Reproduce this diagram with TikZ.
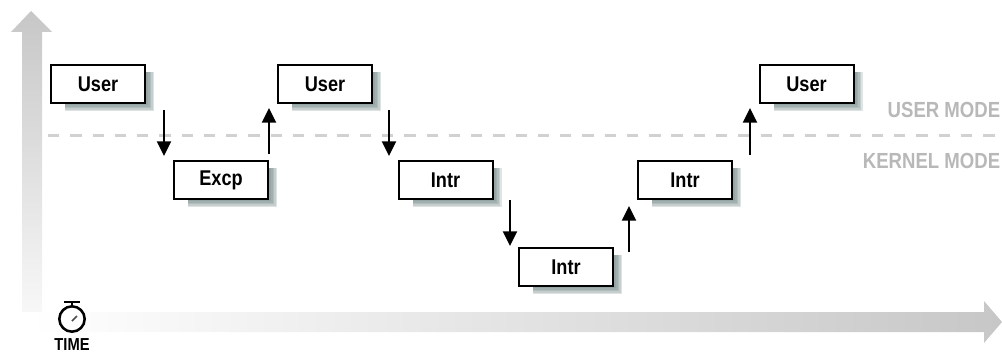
\documentclass[tikz,border=0pt]{standalone}
\usepackage{fontspec}
\setmainfont[FakeStretch=0.85]{Liberation Sans}
\usetikzlibrary{arrows.meta}
\definecolor{axisgray}{gray}{0.78}
\definecolor{modegray}{gray}{0.72}
\definecolor{dashgray}{gray}{0.82}
\definecolor{shadowgray}{rgb}{0.42,0.5,0.5}
\tikzset{
	modebox/.style={draw=black,fill=white,line width=1.5pt,minimum width=70.5pt,minimum height=28.5pt,inner sep=0pt,font=\bfseries\fontsize{16}{18}\selectfont},
	flowarrow/.style={draw=black,line width=1.5pt,-{Triangle[length=11pt,width=10.5pt]}},
	modelabel/.style={anchor=east,inner sep=0pt,text=modegray,font=\bfseries\fontsize{16.4}{19}\selectfont}
}
\newcommand{\modebox}[3]{
	\foreach \g in {0,1.5,3,4.5,6}
		\fill[shadowgray,opacity=0.22,shift={(#1)}] (-33,-12) rectangle (50+\g,21+\g);
	\node[modebox] at (#1) (#2) {#3}
}
\begin{document}
\begin{tikzpicture}[x=0.75pt,y=-0.75pt]
	\useasboundingbox (0,0) rectangle (1002,353);
	% axes
	\shade[top color=axisgray,bottom color=black!3] (31,11) -- (52,32) -- (42,32) -- (42,312) -- (22,312) -- (22,32) -- (11,32) -- cycle;
	\shade[left color=white,right color=axisgray] (30,312) -- (984,312) -- (984,301) -- (1002,322) -- (984,343) -- (984,332) -- (30,332) -- cycle;
	\draw[dashgray,line width=2.25pt,dash pattern=on 8.5pt off 8.2pt] (48,135.5) -- (1002,135.5);
	\node[modelabel] (usermode) at (1000.5,110) {USER MODE};
	\node[modelabel] (kernelmode) at (1000.5,161) {KERNEL MODE};

	\modebox{98,84}{user-1}{User};
	\modebox{221,180}{excp}{Excp};
	\modebox{325,84}{user-2}{User};
	\modebox{445.5,180}{intr-1}{Intr};
	\modebox{566,267}{intr-2}{Intr};
	\modebox{685,180}{intr-3}{Intr};
	\modebox{806.5,84}{user-3}{User};

	\coordinate (a1) at (164,110);
	\coordinate (b1) at (164,156);
	\coordinate (a2) at (269,154);
	\coordinate (b2) at (269,108);
	\coordinate (a3) at (389,110);
	\coordinate (b3) at (389,156);
	\coordinate (a4) at (510,200);
	\coordinate (b4) at (510,246);
	\coordinate (a5) at (629,252);
	\coordinate (b5) at (629,206);
	\coordinate (a6) at (750,155);
	\coordinate (b6) at (750,108);
	\draw[flowarrow] (a1) -- (b1);
	\draw[flowarrow] (a2) -- (b2);
	\draw[flowarrow] (a3) -- (b3);
	\draw[flowarrow] (a4) -- (b4);
	\draw[flowarrow] (a5) -- (b5);
	\draw[flowarrow] (a6) -- (b6);

	% stopwatch
	\node[circle,draw=black,fill=white,line width=1.9pt,minimum size=19pt,inner sep=0pt] (watch) at (72,319) {};
	\coordinate (stem) at (72,302);
	\coordinate (barl) at (64,302);
	\coordinate (barr) at (80,302);
	\coordinate (hand) at (77,316);
	\coordinate (hub) at (72,321);
	\draw[line width=1.5pt] (stem) -- (watch.north);
	\draw[line width=1.5pt] (barl) -- (barr);
	\draw[black!70,line width=1.2pt] (hub) -- (hand);
	\node[inner sep=0pt,font=\bfseries\fontsize{13}{15}\selectfont] (time) at (72,345) {TIME};
\end{tikzpicture}
\end{document}
